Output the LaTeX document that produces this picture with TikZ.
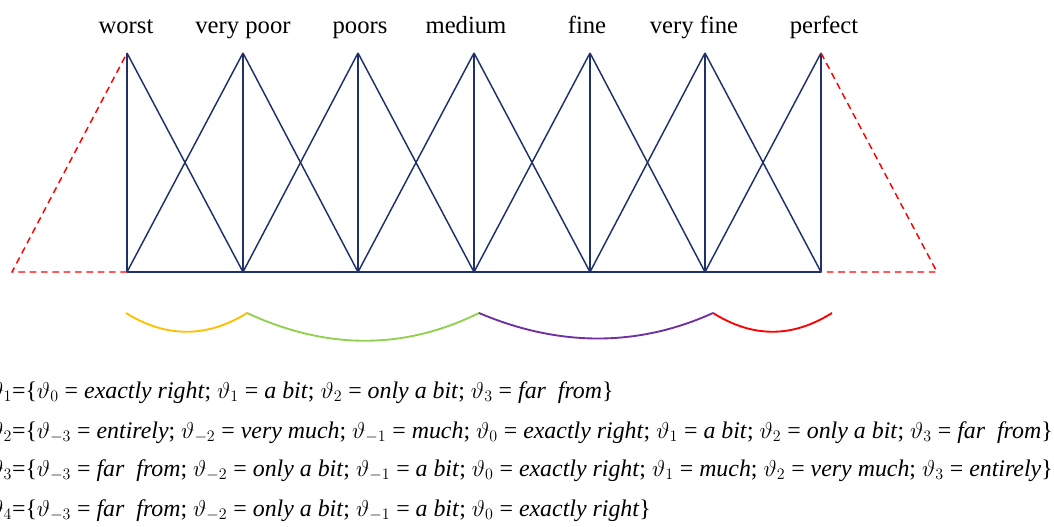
\documentclass[tikz,border=0pt]{standalone}
\usepackage{fontspec}
\setmainfont{Liberation Serif}[ItalicFont=Liberation Serif Italic, BoldFont=Liberation Serif Bold]
\usetikzlibrary{positioning, calc}
\definecolor{mfblue}{HTML}{1F3168}
\definecolor{boundred}{HTML}{FF0000}
\definecolor{arcyellow}{HTML}{FFC000}
\definecolor{arcgreen}{HTML}{92D050}
\definecolor{arcpurple}{HTML}{7030A0}
\newcommand{\vt}[1]{$\vartheta_{#1}$}

\begin{document}
\begin{tikzpicture}[x=0.75pt, y=-0.75pt,
    mf/.style={draw=mfblue, line width=1.1pt},
    bound/.style={draw=boundred, dashed, line width=1.1pt, dash pattern=on 5pt off 3.5pt},
    arcline/.style={line width=1.4pt},
    grade/.style={font=\fontsize{18.5}{22}\selectfont, anchor=base},
    setline/.style={font=\fontsize{17.9}{22}\selectfont, anchor=base west, inner sep=0pt}]
  \useasboundingbox (0,0) rectangle (1054,526);

  % Peaks and feet of the membership triangles
  \foreach \i/\x in {1/127,2/243,3/358,4/474,5/590,6/705,7/821} {
    \coordinate (t\i) at (\x,53);
    \coordinate (b\i) at (\x,272);
  }
  \coordinate (lfoot) at (12,272);
  \coordinate (rfoot) at (937,272);

  % Grade labels
  \foreach \i/\x/\lab in {1/126/worst,2/243/very poor,3/360/poors,4/466/medium,
                          5/587/fine,6/694/very fine,7/824/perfect} {
    \node[grade] (lab\i) at (\x,33) {\lab};
  }

  % Triangles
  \draw[mf] (b1) -- (b7);
  \foreach \i in {1,...,7} \draw[mf] (t\i) -- (b\i);
  \foreach \i/\j in {1/2,2/3,3/4,4/5,5/6,6/7} {
    \draw[mf] (t\i) -- (b\j);
    \draw[mf] (b\i) -- (t\j);
  }

  % Dashed boundary halves
  \draw[bound] (b1) -- (lfoot) -- (t1);
  \draw[bound] (t7) -- (rfoot) -- (b7);

  % Arcs under the axis
  \foreach \i/\x in {1/126,2/247,3/479,4/713,5/832} {
    \coordinate (c\i) at (\x,313);
  }
  \draw[arcline, arcyellow] (c1) .. controls +(40,25) and +(-40,25) .. (c2);
  \draw[arcline, arcgreen]  (c2) .. controls +(80,37) and +(-75,37) .. (c3);
  \draw[arcline, arcpurple] (c3) .. controls +(80,34) and +(-75,34) .. (c4);
  \draw[arcline, boundred]  (c4) .. controls +(40,25) and +(-40,25) .. (c5);

  % Term sets
  \node[setline] (set1) at (-10,398) {\vt{1}=\{\vt{0} = \textit{exactly right}; \vt{1} = \textit{a bit}; \vt{2} = \textit{only a bit}; \vt{3} = \textit{far\ \ from}\}};
  \node[setline] (set2) at (-10,438) {\vt{2}=\{\vt{-3} = \textit{entirely}; \vt{-2} = \textit{very much}; \vt{-1} = \textit{much}; \vt{0} = \textit{exactly right}; \vt{1} = \textit{a bit}; \vt{2} = \textit{only a bit}; \vt{3} = \textit{far\ \ from}\}};
  \node[setline] (set3) at (-10,476) {\vt{3}=\{\vt{-3} = \textit{far\ \ from}; \vt{-2} = \textit{only a bit}; \vt{-1} = \textit{a bit}; \vt{0} = \textit{exactly right}; \vt{1} = \textit{much}; \vt{2} = \textit{very much}; \vt{3} = \textit{entirely}\}};
  \node[setline] (set4) at (-10,516) {\vt{4}=\{\vt{-3} = \textit{far\ \ from}; \vt{-2} = \textit{only a bit}; \vt{-1} = \textit{a bit}; \vt{0} = \textit{exactly right}\}};
\end{tikzpicture}
\end{document}
